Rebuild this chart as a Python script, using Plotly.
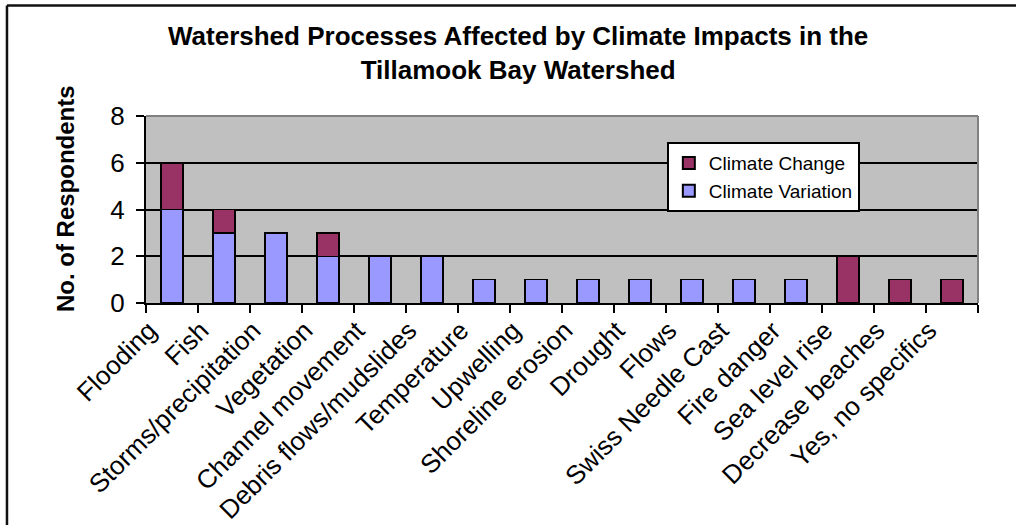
import plotly.graph_objects as go

# Watershed processes named by respondents, split by climate driver
categories = [
    "Flooding", "Fish", "Storms/precipitation", "Vegetation",
    "Channel movement", "Debris flows/mudslides", "Temperature", "Upwelling",
    "Shoreline erosion", "Drought", "Flows", "Swiss Needle Cast",
    "Fire danger", "Sea level rise", "Decrease beaches", "Yes, no specifics",
]
climate_variation = [4, 3, 3, 2, 2, 2, 1, 1, 1, 1, 1, 1, 1, 0, 0, 0]
climate_change = [2, 1, 0, 1, 0, 0, 0, 0, 0, 0, 0, 0, 0, 2, 1, 1]

y_ticks = [0, 2, 4, 6, 8]

FONT = "Liberation Sans, Arial, sans-serif"

fig = go.Figure()
fig.add_trace(go.Bar(
    name="Climate Variation", x=categories, y=climate_variation,
    marker=dict(color="#9999FF", line=dict(color="black", width=1.5)),
    width=0.42,
))
fig.add_trace(go.Bar(
    name="Climate Change", x=categories, y=climate_change,
    marker=dict(color="#993366", line=dict(color="black", width=1.5)),
    width=0.42,
))

fig.update_layout(
    width=1016, height=525,
    margin=dict(l=146, r=38, t=116, b=222, autoexpand=False),
    barmode="stack",
    paper_bgcolor="white",
    plot_bgcolor="#C0C0C0",
    font=dict(family=FONT, color="black"),
    showlegend=True,
    legend=dict(
        x=0.626, y=0.86, xanchor="left", yanchor="top",
        bgcolor="white", bordercolor="black", borderwidth=2,
        traceorder="reversed",
        font=dict(size=19, family=FONT),
        itemsizing="constant",
    ),
    xaxis=dict(
        type="category",
        automargin=False,
        tickangle=-45,
        tickfont=dict(size=26, family=FONT),
        ticks="outside", tickson="boundaries", ticklen=8, tickwidth=2,
        tickcolor="black",
        ticklabelshift=-23,
        showline=True, linecolor="black", linewidth=2,
        showgrid=False,
    ),
    yaxis=dict(
        range=[0, 8],
        automargin=False,
        tickvals=y_ticks,
        tickfont=dict(size=26, family=FONT),
        ticks="outside", ticklen=8, tickwidth=2, tickcolor="black",
        ticklabelstandoff=6,
        showline=True, linecolor="black", linewidth=2,
        showgrid=True, gridcolor="black", gridwidth=2,
        zeroline=False,
    ),
    annotations=[
        dict(
            text="<b>Watershed Processes Affected by Climate Impacts in the<br>Tillamook Bay Watershed</b>",
            xref="paper", yref="paper", x=0.447, y=1.335,
            xanchor="center", yanchor="middle", showarrow=False,
            font=dict(size=26, family=FONT),
        ),
        dict(
            text="<b>No. of Respondents</b>",
            xref="paper", yref="paper", x=-0.0974, y=0.561,
            xanchor="center", yanchor="middle", showarrow=False,
            textangle=-90,
            font=dict(size=24, family=FONT),
        ),
    ],
    shapes=[
        # gray edge along the top and right of the plot area
        dict(type="line", xref="paper", yref="paper", x0=0, x1=1, y0=1, y1=1,
             line=dict(color="#808080", width=2)),
        dict(type="line", xref="paper", yref="paper", x0=1, x1=1, y0=0, y1=1,
             line=dict(color="#808080", width=2)),
        # outer chart frame
        dict(type="line", xref="paper", yref="paper", x0=-0.1671, x1=1.2,
             y0=1.591, y1=1.591, line=dict(color="#111111", width=2.5)),
        dict(type="line", xref="paper", yref="paper", x0=-0.1671, x1=-0.1671,
             y0=1.591, y1=-1.4, line=dict(color="#111111", width=2.5)),
    ],
)

fig.write_html("out.html")
